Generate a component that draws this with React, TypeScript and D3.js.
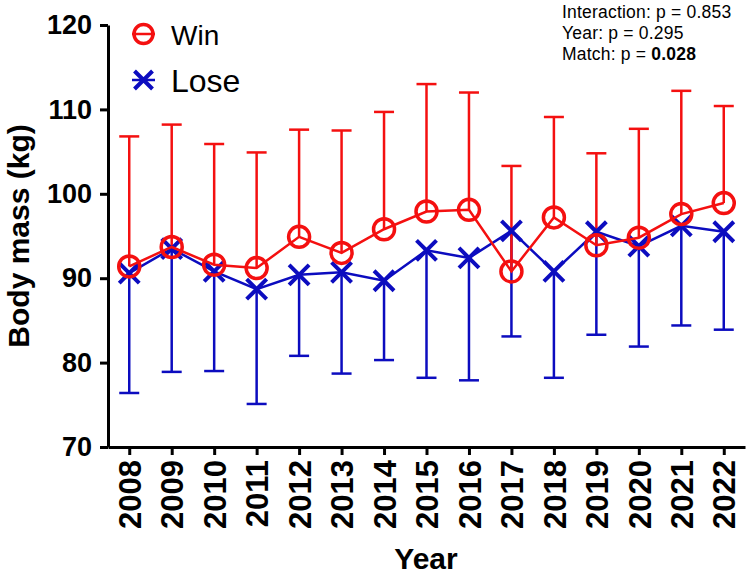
import React, { useRef, useEffect, useCallback } from 'react'
import * as d3 from 'd3'

const years = ['2008', '2009', '2010', '2011', '2012', '2013', '2014', '2015', '2016', '2017', '2018', '2019', '2020', '2021', '2022']
const winMean = [91.4, 93.7, 91.6, 91.2, 94.9, 93.0, 95.8, 97.9, 98.1, 90.8, 97.2, 93.9, 94.8, 97.6, 98.9]
const winUpper = [106.8, 108.2, 105.9, 104.9, 107.6, 107.5, 109.7, 113.0, 112.0, 103.3, 109.1, 104.8, 107.7, 112.2, 110.4]
const loseMean = [90.6, 93.5, 90.8, 88.7, 90.4, 90.7, 89.7, 93.3, 92.4, 95.6, 90.8, 95.5, 93.8, 96.2, 95.5]
const loseLower = [76.4, 78.9, 79.0, 75.1, 80.8, 78.7, 80.3, 78.2, 77.9, 83.1, 78.2, 83.3, 81.9, 84.4, 83.9]
const yTicks = [70, 80, 90, 100, 110, 120]
const statLines = [
    { label: 'Interaction: p = ', value: '0.853', bold: false },
    { label: 'Year: p = ', value: '0.295', bold: false },
    { label: 'Match: p = ', value: '0.028', bold: true },
]

const RED = '#f41010'
const BLUE = '#0c0cbf'
const FONT = '"Liberation Sans", Arial, Helvetica, sans-serif'

const App = () => {
    const chartRef = useRef<HTMLDivElement | null>(null)

    const drawChart = useCallback(() => {
        if (!chartRef.current) return
        const width = 750
        const height = 574

        const svg = d3.select(chartRef.current)
            .append('svg')
            .attr('width', width)
            .attr('height', height)
            .style('display', 'block')
            .style('font-family', FONT)

        const x = d3.scalePoint<string>()
            .domain(years)
            .range([108, 745])
            .padding(0.5)

        const y = d3.scaleLinear()
            .domain([70, 120])
            .range([447, 25])

        // y axis
        const yAxis = svg.append('g')
            .attr('transform', 'translate(108, 0)')
            .call(d3.axisLeft(y)
                .tickValues(yTicks)
                .tickSize(8)
                .tickSizeOuter(0)
                .tickPadding(8)
            )
        yAxis.select('.domain').attr('stroke', '#000').attr('stroke-width', 3)
        yAxis.selectAll('.tick line').attr('stroke', '#000').attr('stroke-width', 3)
        yAxis.selectAll('.tick text')
            .attr('fill', '#000')
            .style('font-family', FONT)
            .style('font-size', '27px')
            .style('font-weight', 'bold')

        // x axis
        const xAxis = svg.append('g')
            .attr('transform', 'translate(0, 447)')
            .call(d3.axisBottom(x)
                .tickSize(8)
                .tickSizeOuter(0)
            )
        xAxis.select('.domain').attr('stroke', '#000').attr('stroke-width', 3)
        xAxis.selectAll('.tick line').attr('stroke', '#000').attr('stroke-width', 3)
        xAxis.selectAll('.tick text')
            .attr('fill', '#000')
            .attr('transform', 'rotate(-90)')
            .attr('x', -13)
            .attr('y', 0)
            .attr('dy', '0.36em')
            .style('text-anchor', 'end')
            .style('font-family', FONT)
            .style('font-size', '31px')
            .style('font-weight', 'bold')

        // axis titles
        svg.append('text')
            .attr('transform', `translate(29, ${y(95)}) rotate(-90)`)
            .attr('text-anchor', 'middle')
            .style('font-size', '30px')
            .style('font-weight', 'bold')
            .text('Body mass (kg)')

        svg.append('text')
            .attr('x', 426)
            .attr('y', 569)
            .attr('text-anchor', 'middle')
            .style('font-size', '30px')
            .style('font-weight', 'bold')
            .text('Year')

        const lose = years.map((d, i) => ({ key: d, value: loseMean[i], err: loseLower[i] }))
        const win = years.map((d, i) => ({ key: d, value: winMean[i], err: winUpper[i] }))

        // error bars: lose goes down, win goes up
        const errG = svg.append('g')
        const drawErr = (data: typeof lose, color: string) => {
            data.forEach(d => {
                const cx = x(d.key) as number
                errG.append('line')
                    .attr('x1', cx).attr('x2', cx)
                    .attr('y1', y(d.value)).attr('y2', y(d.err))
                    .attr('stroke', color).attr('stroke-width', 2.5)
                errG.append('line')
                    .attr('x1', cx - 10).attr('x2', cx + 10)
                    .attr('y1', y(d.err)).attr('y2', y(d.err))
                    .attr('stroke', color).attr('stroke-width', 2.5)
            })
        }
        drawErr(lose, BLUE)
        drawErr(win, RED)

        const line = d3.line<{ key: string, value: number }>()
            .x(d => x(d.key) as number)
            .y(d => y(d.value))

        svg.append('path')
            .datum(lose)
            .attr('fill', 'none')
            .attr('stroke', BLUE)
            .attr('stroke-width', 2.5)
            .attr('d', line)

        const cross = (g: d3.Selection<SVGGElement, unknown, null, undefined>, cx: number, cy: number, s: number, w: number) => {
            g.append('path')
                .attr('d', `M${cx - s},${cy - s}L${cx + s},${cy + s}M${cx - s},${cy + s}L${cx + s},${cy - s}`)
                .attr('stroke', BLUE)
                .attr('stroke-width', w)
                .attr('fill', 'none')
        }
        const loseMarks = svg.append('g')
        lose.forEach(d => cross(loseMarks, x(d.key) as number, y(d.value), 10, 4))

        svg.append('path')
            .datum(win)
            .attr('fill', 'none')
            .attr('stroke', RED)
            .attr('stroke-width', 2.5)
            .attr('d', line)

        svg.append('g')
            .selectAll('circle')
            .data(win)
            .join('circle')
            .attr('cx', d => x(d.key) as number)
            .attr('cy', d => y(d.value))
            .attr('r', 10.5)
            .attr('fill', 'none')
            .attr('stroke', RED)
            .attr('stroke-width', 3.5)

        // legend
        const legend = svg.append('g')
        legend.append('line')
            .attr('x1', 132).attr('x2', 155).attr('y1', 34).attr('y2', 34)
            .attr('stroke', RED).attr('stroke-width', 2.5)
        legend.append('circle')
            .attr('cx', 143.5).attr('cy', 34).attr('r', 9.5)
            .attr('fill', 'none').attr('stroke', RED).attr('stroke-width', 3.5)
        legend.append('text')
            .attr('x', 171).attr('y', 45)
            .style('font-size', '28px')
            .text('Win')

        legend.append('line')
            .attr('x1', 132).attr('x2', 155).attr('y1', 80).attr('y2', 80)
            .attr('stroke', BLUE).attr('stroke-width', 2.5)
        cross(legend, 143.5, 80, 9, 4)
        legend.append('text')
            .attr('x', 171).attr('y', 92)
            .style('font-size', '32px')
            .text('Lose')

        // stats
        const stats = svg.append('text')
            .attr('x', 562)
            .attr('y', 18)
            .style('font-size', '17.5px')
            .style('letter-spacing', '0.2px')
        statLines.forEach((s, i) => {
            stats.append('tspan')
                .attr('x', 562)
                .attr('y', 18 + i * 21)
                .text(s.label)
            stats.append('tspan')
                .style('font-weight', s.bold ? 'bold' : 'normal')
                .text(s.value)
        })
    }, [])

    const destroyChart = useCallback(() => {
        if (chartRef.current) {
            d3.select(chartRef.current).select('svg').remove()
        }
    }, [])

    useEffect(() => {
        drawChart()
        return () => destroyChart()
    }, [drawChart, destroyChart])

    return (
        <div ref={chartRef} style={{ position: 'absolute', left: 0, top: 0, width: 750, height: 574, background: '#fff' }}></div>
    )
}

export default App
